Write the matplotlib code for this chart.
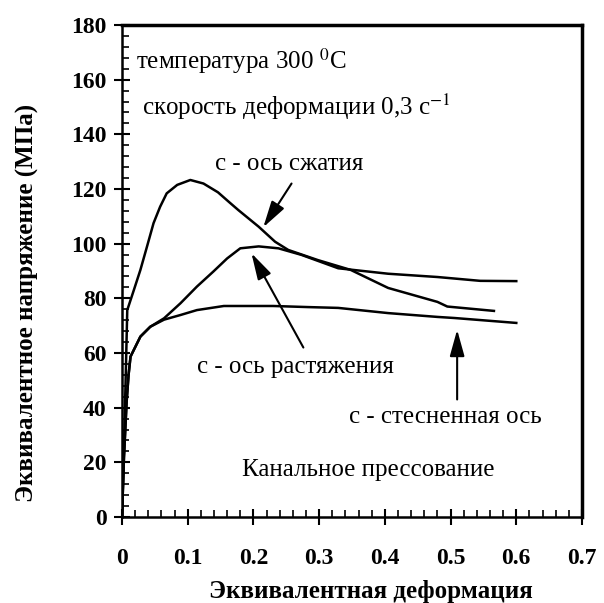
import matplotlib
matplotlib.use('Agg')
import matplotlib.pyplot as plt
from matplotlib.ticker import MultipleLocator

# кривые напряжение-деформация
eps_szh = [0, 0.003, 0.006, 0.008, 0.018, 0.028, 0.038, 0.048, 0.058, 0.068, 0.084,
           0.104, 0.124, 0.146, 0.164, 0.177, 0.208, 0.233, 0.253, 0.298, 0.348,
           0.405, 0.48, 0.495, 0.566]
sig_szh = [0, 25, 55, 75.7, 83, 90.4, 98.9, 107.5, 113.5, 118.4, 121.5,
           123.3, 122, 118.8, 115, 112.3, 106.2, 100.7, 97.7, 94, 90.4,
           83.8, 78.7, 77, 75.4]

eps_rast = [0, 0.003, 0.007, 0.010, 0.013, 0.028, 0.043, 0.064, 0.089, 0.114, 0.139,
            0.160, 0.180, 0.208, 0.238, 0.273, 0.329, 0.405, 0.48, 0.545, 0.6]
sig_rast = [0, 22, 42, 52, 58.7, 66, 69.6, 72.7, 78.2, 84.3, 89.8,
            94.6, 98.3, 99, 98.3, 95.9, 91, 89, 87.8, 86.4, 86.3]

eps_stes = [0, 0.003, 0.007, 0.010, 0.013, 0.028, 0.043, 0.064, 0.089, 0.114, 0.155,
            0.23, 0.283, 0.329, 0.405, 0.48, 0.506, 0.6]
sig_stes = [0, 22, 42, 52, 58.7, 66, 69.6, 72.2, 73.9, 75.7, 77.2,
            77.2, 76.8, 76.5, 74.6, 73.2, 72.8, 71]

plt.rcParams['font.family'] = ['Liberation Serif', 'DejaVu Serif']
plt.rcParams['mathtext.fontset'] = 'stix'

fig = plt.figure(figsize=(6.04, 6.03), dpi=100)
ax = fig.add_axes([122/604, 1 - 517/603, (582-122)/604, (517-25)/603])

for x, y in [(eps_szh, sig_szh), (eps_rast, sig_rast), (eps_stes, sig_stes)]:
    ax.plot(x, y, color='black', lw=1.8, solid_joinstyle='round')

ax.set_xlim(0, 0.7)
ax.set_ylim(0, 180)
ax.xaxis.set_minor_locator(MultipleLocator(0.02))
ax.yaxis.set_major_locator(MultipleLocator(20))
ax.yaxis.set_minor_locator(MultipleLocator(4))
ax.set_xticks([0, 0.1, 0.2, 0.3, 0.4, 0.5, 0.6, 0.7])
ax.set_xticklabels(['0', '0.1', '0.2', '0.3', '0.4', '0.5', '0.6', '0.7'])
ax.tick_params(which='major', direction='inout', length=12, width=1.5,
               labelsize=17)
ax.tick_params(axis='x', which='major', pad=16)
ax.tick_params(axis='y', which='major', pad=5)
ax.tick_params(which='minor', direction='in', length=5, width=1.2)
for lab in ax.get_xticklabels() + ax.get_yticklabels():
    lab.set_fontweight('bold')

ax.spines['left'].set_linewidth(1.8)
ax.spines['bottom'].set_linewidth(1.8)
ax.spines['top'].set_linewidth(2.5)
ax.spines['right'].set_linewidth(2.5)

ax.set_ylabel('Эквивалентное напряжение (МПа)', fontsize=18, fontweight='bold')
ax.set_xlabel('Эквивалентная деформация', fontsize=18, fontweight='bold')
ax.yaxis.set_label_coords(-0.18, 0.435)
ax.xaxis.set_label_coords(0.54, -0.128)

ax.text(0.022, 164, 'температура 300 $^{0}$C', fontsize=18)
ax.text(0.031, 147, 'скорость деформации 0,3 с$^{-1}$', fontsize=18)
ax.text(0.142, 127, 'с - ось сжатия', fontsize=18)
ax.text(0.114, 52.5, 'с - ось растяжения', fontsize=18)
ax.text(0.345, 34.5, 'с - стесненная ось', fontsize=18)
ax.text(0.183, 15, 'Канальное прессование', fontsize=18)

arr = dict(arrowstyle='-|>,head_length=0.9,head_width=0.25', color='black', lw=1.5,
           mutation_scale=18, shrinkA=0, shrinkB=0)
ax.annotate('', xy=(0.215, 106), xytext=(0.258, 122), arrowprops=arr)
ax.annotate('', xy=(0.197, 96.5), xytext=(0.276, 62), arrowprops=arr)
ax.annotate('', xy=(0.51, 68.5), xytext=(0.51, 43), arrowprops=arr)

fig.savefig('out.png', dpi=100)
